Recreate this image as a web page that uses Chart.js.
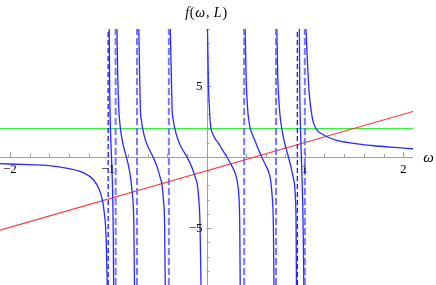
<!DOCTYPE html>
<html>
<head>
<meta charset="utf-8">
<script src="https://cdn.jsdelivr.net/npm/chart.js@4.4.1/dist/chart.umd.min.js"></script>
<style>
  html, body { margin: 0; padding: 0; background: #fff; }
</style>
</head>
<body>
<canvas id="plot" width="436" height="285"></canvas>
<script>
// f(omega, L): solid branches (omega, f)
const branchOmega = [
  [-2.1, -1.8, -1.6, -1.4, -1.25, -1.15, -1.09, -1.06, -1.04, -1.02, -1.008],
  [-0.99, -0.985, -0.979, -0.972, -0.966, -0.96, -0.953, -0.948, -0.944],
  [-0.912, -0.903, -0.892, -0.884, -0.876, -0.858, -0.84, -0.815, -0.792, -0.772, -0.757, -0.745, -0.739, -0.732],
  [-0.69, -0.68, -0.673, -0.662, -0.65, -0.622, -0.589, -0.544, -0.504, -0.47, -0.453, -0.437, -0.426, -0.419],
  [-0.370, -0.358, -0.350, -0.338, -0.323, -0.290, -0.252, -0.199, -0.152, -0.112, -0.093, -0.077, -0.066, -0.055],
  [0.009, 0.02, 0.03, 0.036, 0.045, 0.065, 0.095, 0.12, 0.15, 0.207, 0.26, 0.284, 0.305, 0.319, 0.332, 0.338, 0.343],
  [0.392, 0.402, 0.418, 0.430, 0.444, 0.466, 0.495, 0.522, 0.562, 0.607, 0.63, 0.648, 0.658, 0.665, 0.674, 0.68, 0.687],
  [0.714, 0.724, 0.742, 0.753, 0.765, 0.787, 0.808, 0.833, 0.858, 0.883, 0.896, 0.906, 0.911, 0.915],
  [0.944, 0.948, 0.954, 0.96, 0.966, 0.972, 0.979, 0.985, 0.99],
  [1.008, 1.025, 1.043, 1.076, 1.11, 1.188, 1.307, 1.476, 1.68, 1.916, 2.1]
];
const branchF = [
  [-0.47, -0.54, -0.6, -0.82, -1.12, -1.6, -2.3, -3.0, -3.9, -5.8, -9.5],
  [9.5, 5, 2.5, 1, 0, -1.2, -3, -5.5, -9.5],
  [9.5, 5.8, 3.4, 2.6, 2.03, 1.21, 0.63, 0, -0.66, -1.47, -2.41, -3.4, -4.75, -9.5],
  [9.5, 5.8, 3.4, 2.6, 2.03, 1.21, 0.63, 0, -0.66, -1.47, -1.94, -3.1, -4.75, -9.5],
  [9.5, 5.8, 3.4, 2.6, 2.03, 1.21, 0.63, 0, -0.66, -1.47, -1.94, -3.1, -4.75, -9.5],
  [9.5, 5.0, 3.4, 2.6, 2.03, 1.6, 1.21, 1.0, 0.63, 0, -0.66, -1.0, -1.47, -2.0, -3.1, -4.75, -9.5],
  [9.5, 5.8, 3.4, 2.6, 2.03, 1.6, 1.1, 0.63, 0, -0.66, -1.0, -1.47, -2.0, -2.5, -3.4, -4.75, -9.5],
  [9.5, 5.8, 3.4, 2.6, 2.03, 1.21, 0.63, 0, -0.66, -1.47, -2.0, -3.1, -4.75, -9.5],
  [9.5, 5, 2.5, 1, -0.3, -1.6, -3.5, -6, -9.5],
  [9.5, 6.9, 4.6, 2.73, 2.03, 1.56, 1.21, 0.98, 0.81, 0.67, 0.58]
];

// dashed asymptotes
const polesLight = [-0.924, -0.707, -0.383, 0.383, 0.707, 1.0];
const polesDark = [-1.0, 0.924];

// straight lines
const lineOmega = [-2.1, 2.1];
const redF = [-5.15, 3.2];
const greenF = [2, 2];

const xLabels = [-2, -1, 1, 2];
const yLabels = [-5, 5];
const xRange = [-2.1, 2.1];
const yRange = [-9, 9];

const pts = (xs, ys) => xs.map((x, i) => ({ x: x, y: ys[i] }));
const minus = v => (v < 0 ? '\u2212' + Math.abs(v) : String(v));

const datasets = [];
polesLight.forEach(p => datasets.push({
  data: pts([p, p], yRange), borderColor: 'rgba(95,95,255,0.85)', borderWidth: 2, borderDash: [7, 3]
}));
polesDark.forEach(p => datasets.push({
  data: pts([p, p], yRange), borderColor: '#1a1aff', borderWidth: 1.3, borderDash: [5, 3]
}));
branchOmega.forEach((w, i) => datasets.push({
  data: pts(w, branchF[i]), borderColor: '#2a2aff', borderWidth: 1.3, cubicInterpolationMode: 'monotone'
}));
datasets.push({ data: pts(lineOmega, redF), borderColor: '#ff3a3a', borderWidth: 1.2 });
datasets.push({ data: pts(lineOmega, greenF), borderColor: '#3aee3a', borderWidth: 1.2 });
datasets.forEach(d => { d.showLine = true; d.pointRadius = 0; d.fill = false; });

const serif = '"Liberation Serif", "DejaVu Serif", serif';

// Mathematica-style axes through the origin
const mmaAxes = {
  id: 'mmaAxes',
  beforeDatasetsDraw(chart) {
    const { ctx, chartArea: a, scales: { x, y } } = chart;
    const x0 = x.getPixelForValue(0), y0 = y.getPixelForValue(0);
    ctx.save();
    ctx.strokeStyle = '#a0a0a0';
    ctx.lineWidth = 1;
    ctx.beginPath();
    ctx.moveTo(a.left, Math.round(y0) + 0.5); ctx.lineTo(a.right, Math.round(y0) + 0.5);
    ctx.moveTo(Math.round(x0) + 0.5, a.top); ctx.lineTo(Math.round(x0) + 0.5, a.bottom);
    for (let k = -10; k <= 10; k++) {
      if (k === 0) continue;
      const px = Math.round(x.getPixelForValue(k / 5)) + 0.5;
      const len = k % 5 === 0 ? 5 : 3;
      ctx.moveTo(px, y0); ctx.lineTo(px, y0 - len);
    }
    for (let k = -9; k <= 9; k++) {
      if (k === 0) continue;
      const py = Math.round(y.getPixelForValue(k)) + 0.5;
      const len = k % 5 === 0 ? 5 : 3;
      ctx.moveTo(x0, py); ctx.lineTo(x0 + len, py);
    }
    ctx.stroke();
    ctx.restore();
  },
  afterDraw(chart) {
    const { ctx, scales: { x, y } } = chart;
    const x0 = x.getPixelForValue(0), y0 = y.getPixelForValue(0);
    ctx.save();
    ctx.fillStyle = '#000';
    ctx.textBaseline = 'middle';

    // tick labels
    ctx.font = '13px ' + serif;
    ctx.textAlign = 'center';
    xLabels.forEach(v => ctx.fillText(minus(v), x.getPixelForValue(v), y0 + 12.5));
    ctx.textAlign = 'right';
    yLabels.forEach(v => ctx.fillText(minus(v), x0 - 4, y.getPixelForValue(v) + 0.5));

    // axis labels
    ctx.textAlign = 'left';
    const parts = [['f', true], ['(', false], ['\u03c9', true], [', ', false], ['L', true], [')', false]];
    const fontOf = it => (it ? 'italic ' : '') + '14px ' + serif;
    let total = 0;
    parts.forEach(([t, it]) => { ctx.font = fontOf(it); total += ctx.measureText(t).width + 0.8; });
    let cx = x0 - total / 2;
    parts.forEach(([t, it]) => {
      ctx.font = fontOf(it);
      ctx.fillText(t, cx, 13);
      cx += ctx.measureText(t).width + 0.8;
    });
    ctx.font = 'italic 15px ' + serif;
    ctx.textAlign = 'center';
    ctx.fillText('\u03c9', 428.5, y0 + 1);
    ctx.restore();
  }
};

new Chart(document.getElementById('plot'), {
  type: 'scatter',
  data: { datasets: datasets },
  options: {
    responsive: false,
    animation: false,
    devicePixelRatio: 1,
    layout: { autoPadding: false, padding: { left: 0, right: 23, top: 29, bottom: 0 } },
    plugins: { legend: { display: false }, tooltip: { enabled: false } },
    scales: {
      x: {
        type: 'linear', min: xRange[0], max: xRange[1], position: { y: 0 },
        grid: { display: false, drawTicks: false }, border: { display: false },
        ticks: { display: false }
      },
      y: {
        type: 'linear', min: yRange[0], max: yRange[1], position: { x: 0 },
        grid: { display: false, drawTicks: false }, border: { display: false },
        ticks: { display: false }
      }
    }
  },
  plugins: [mmaAxes]
});
</script>
</body>
</html>
